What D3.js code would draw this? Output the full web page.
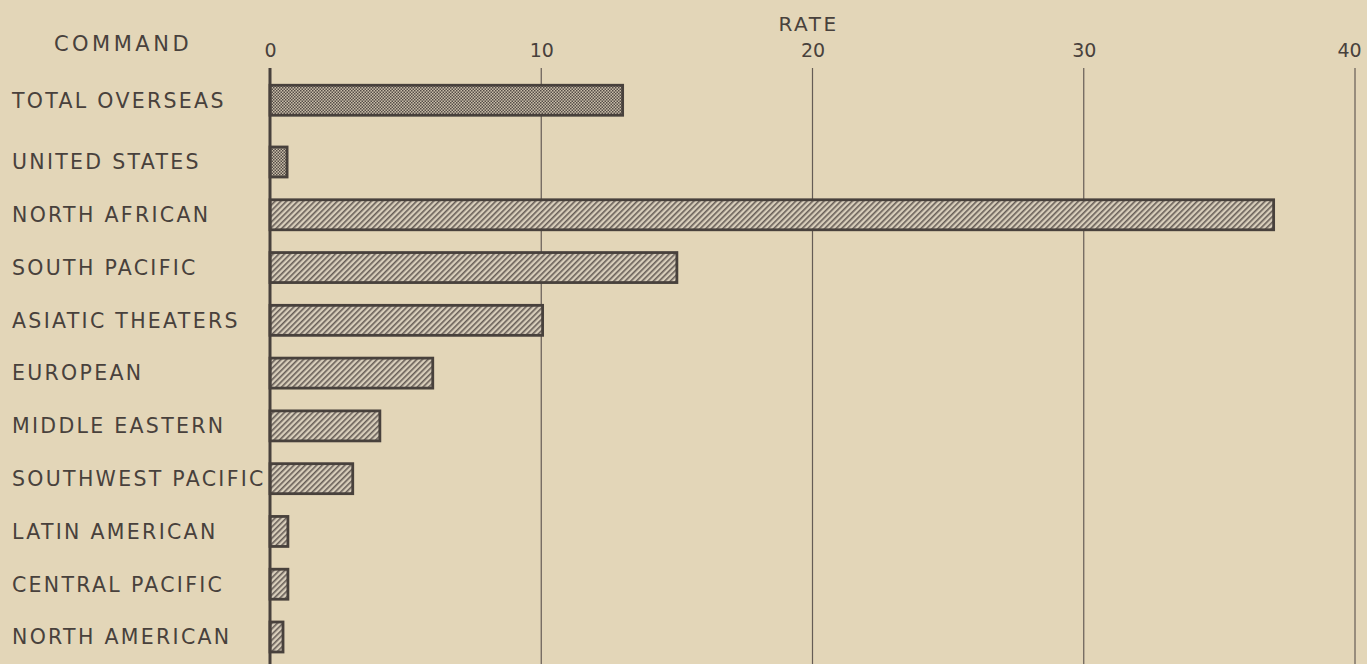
<!DOCTYPE html>
<html>
<head>
<meta charset="utf-8">
<script src="https://cdn.jsdelivr.net/npm/d3@7"></script>
<style>
  body { margin: 0; background: #e3d6b8; }
  text { font-family: "DejaVu Sans", sans-serif; fill: #48413c; }
</style>
</head>
<body>
<div id="main"></div>
<script>
var WIDTH = 1367
var HEIGHT = 664

// data
var commands = ["TOTAL OVERSEAS", "UNITED STATES", "NORTH AFRICAN", "SOUTH PACIFIC",
    "ASIATIC THEATERS", "EUROPEAN", "MIDDLE EASTERN", "SOUTHWEST PACIFIC",
    "LATIN AMERICAN", "CENTRAL PACIFIC", "NORTH AMERICAN"]
var rates = [13.0, 0.63, 37.0, 15.0, 10.05, 6.0, 4.05, 3.05, 0.66, 0.66, 0.48]
var shading = ["dots", "dots", "hatch", "hatch", "hatch", "hatch", "hatch", "hatch", "hatch", "hatch", "hatch"]
var ticks = [0, 10, 20, 30, 40]

var ink = '#48413c'

const svg = d3.select('#main').append('svg')
    .attr('width', WIDTH)
    .attr('height', HEIGHT)

svg.append('rect').attr('width', WIDTH).attr('height', HEIGHT).attr('fill', '#e3d6b8')

var defs = svg.append('defs')
var dots = defs.append('pattern')
    .attr('id', 'dots')
    .attr('patternUnits', 'userSpaceOnUse')
    .attr('width', 3).attr('height', 3)
dots.append('rect').attr('width', 3).attr('height', 3).attr('fill', '#c9bea9')
dots.append('rect').attr('width', 1.5).attr('height', 1.5).attr('fill', '#554c47')
dots.append('rect').attr('x', 1.5).attr('y', 1.5).attr('width', 1.5).attr('height', 1.5).attr('fill', '#554c47')

var hatch = defs.append('pattern')
    .attr('id', 'hatch')
    .attr('patternUnits', 'userSpaceOnUse')
    .attr('width', 4).attr('height', 4)
    .attr('patternTransform', 'rotate(45)')
hatch.append('rect').attr('width', 4).attr('height', 4).attr('fill', '#d8cebb')
hatch.append('rect').attr('width', 1.6).attr('height', 4).attr('fill', '#675e57')

var x = d3.scaleLinear().domain([0, 40]).range([270, 1355])
// rows after the total are evenly spaced; the total sits a little further up
var y = d3.scaleLinear().domain([1, commands.length - 1]).range([162, 637])
var rowGap = 0.17
function rowY(i) { return y(i === 0 ? -rowGap : i) }

// grid lines
svg.selectAll('line.grid')
    .data(ticks.slice(1))
    .enter().append('line')
    .attr('class', 'grid')
    .attr('x1', d => x(d)).attr('x2', d => x(d))
    .attr('y1', 68).attr('y2', HEIGHT)
    .attr('stroke', '#655c55')
    .attr('stroke-width', 1.2)

// tick labels
var axis = svg.append('g')
    .attr('transform', 'translate(0,57)')
    .call(d3.axisTop(x).tickValues(ticks).tickSize(0).tickPadding(0))
axis.select('.domain').remove()
axis.selectAll('text')
    .attr('font-size', 19)
    .attr('font-family', '"DejaVu Sans", sans-serif')
    .attr('dx', d => d === 40 ? -6 : 0)
    .attr('fill', ink)

svg.append('text')
    .attr('x', x(20) - 4).attr('y', 31)
    .attr('text-anchor', 'middle')
    .attr('font-size', 20)
    .attr('letter-spacing', 2.5)
    .text('RATE')

svg.append('text')
    .attr('x', 123).attr('y', 51)
    .attr('text-anchor', 'middle')
    .attr('font-size', 21)
    .attr('letter-spacing', 3.5)
    .text('COMMAND')

// bars
svg.selectAll('rect.bar')
    .data(commands)
    .enter().append('rect')
    .attr('class', 'bar')
    .attr('x', x(0))
    .attr('y', (d, i) => rowY(i) - 15)
    .attr('width', (d, i) => x(rates[i]) - x(0))
    .attr('height', 30)
    .attr('fill', (d, i) => 'url(#' + shading[i] + ')')
    .attr('stroke', ink)
    .attr('stroke-width', 2.8)

// category labels
svg.selectAll('text.cat')
    .data(commands)
    .enter().append('text')
    .attr('class', 'cat')
    .attr('x', 12)
    .attr('y', (d, i) => rowY(i))
    .attr('dy', '0.36em')
    .attr('font-size', 20.5)
    .attr('letter-spacing', 2.3)
    .text(d => d)

// main axis
svg.append('line')
    .attr('x1', x(0)).attr('x2', x(0))
    .attr('y1', 68).attr('y2', HEIGHT)
    .attr('stroke', ink)
    .attr('stroke-width', 3)
</script>
</body>
</html>
